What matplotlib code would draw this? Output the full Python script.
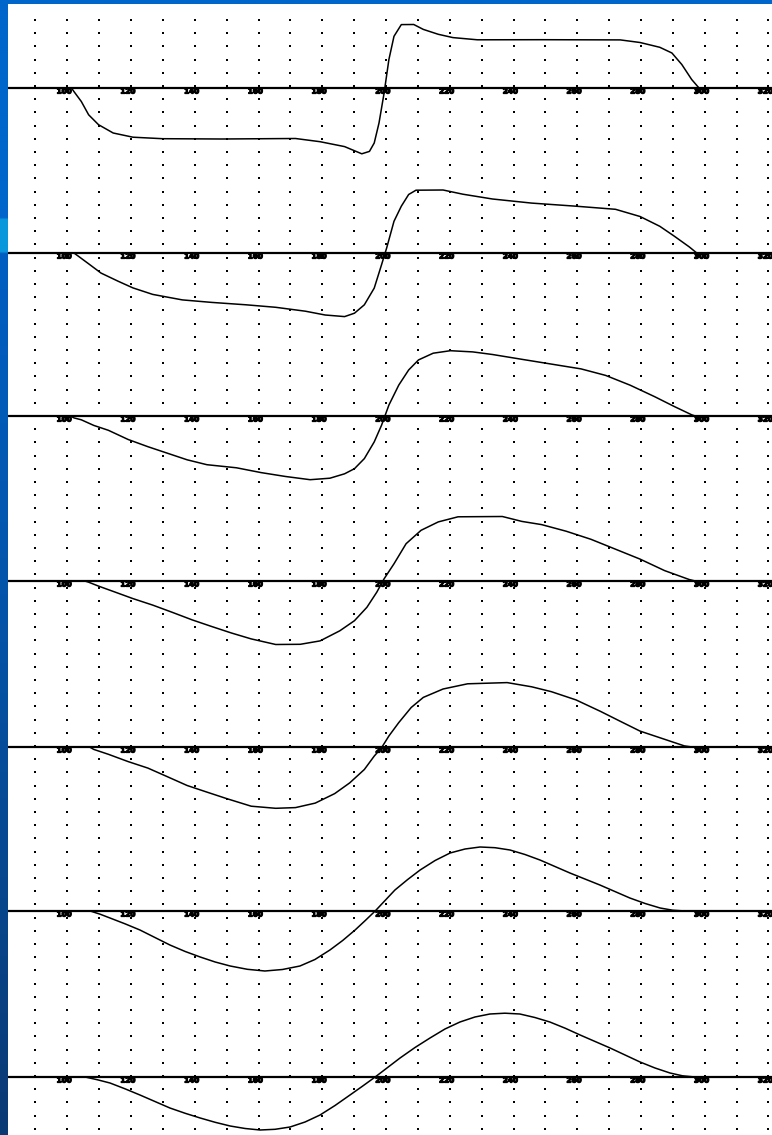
import numpy as np
import matplotlib.pyplot as plt
import matplotlib.patheffects as pe
from matplotlib.colors import LinearSegmentedColormap

# labels printed under every trace
ticks = [100, 120, 140, 160, 180, 200, 220, 240, 260, 280, 300, 320]

# row (px from top) of each trace's zero line
baselines = [88, 253, 416, 581, 747, 911, 1077]

# traces: position on the tick scale, deflection in px (up = positive)
t1 = [82, 102.3, 103.1, 105.4, 107.7, 110.8, 115.4, 121.6, 130.9, 149.4, 172.6, 180.3, 188.0,
      193.4, 195.8, 197.3, 198.8, 200.4, 201.9, 203.5, 205.8, 209.7, 212.7, 217.4, 222.0,
      229.7, 249.8, 274.5, 280.7, 286.9, 290.7, 293.8, 296.9, 299.2, 322]
a1 = [0, 0, -3.6, -13.5, -26.8, -36.7, -45.0, -49.2, -50.7, -51.0, -50.5, -53.7, -58.6,
      -65.8, -63.4, -55.0, -35.0, -5.0, 28.4, 51.7, 63.4, 63.5, 58.6, 53.7, 50.4,
      48.2, 48.3, 48.1, 45.5, 40.7, 35.0, 23.5, 8.5, 0, 0]

t2 = [82, 103.1, 104.6, 107.7, 111.6, 117.0, 121.6, 127.8, 137.1, 146.3, 157.1, 166.4, 175.7,
      181.9, 188.0, 191.1, 194.2, 197.3, 199.6, 201.2, 203.5, 205.8, 208.1, 210.4, 218.9,
      225.1, 234.4, 246.7, 260.6, 273.0, 280.7, 286.9, 291.5, 296.1, 298.5, 322]
a2 = [0, 0, -3.5, -10.8, -20.1, -28.3, -34.9, -41.4, -46.9, -49.4, -51.8, -54.3, -58.2,
      -62.0, -63.6, -60.2, -51.8, -35.1, -11.7, 5.0, 31.7, 46.8, 58.5, 62.8, 63.0,
      58.8, 54.0, 49.9, 46.8, 43.7, 36.5, 26.7, 16.7, 6.2, 0, 0]

t3 = [82, 102.0, 103.1, 105.4, 109.3, 113.9, 120.1, 126.3, 132.4, 138.6, 144.8, 154.1, 161.8,
      169.5, 177.2, 183.4, 188.0, 191.1, 194.2, 197.3, 199.6, 201.9, 205.0, 208.1, 211.2,
      215.8, 221.2, 228.2, 234.4, 243.6, 252.9, 262.2, 269.9, 277.6, 285.3, 291.5, 296.9,
      298.0, 322]
a3 = [0, 0, -1.9, -3.8, -9.4, -14.3, -23.5, -30.7, -37.2, -43.8, -48.7, -51.8, -56.6,
      -60.5, -63.7, -62.2, -57.8, -52.7, -42.6, -25.9, -9.2, 10.9, 30.9, 46.0, 56.1,
      62.8, 65.3, 64.1, 61.5, 56.7, 51.9, 47.1, 40.6, 30.8, 19.3, 9.4, 1.2, 0, 0]

t4 = [82, 106.5, 107.7, 110.8, 115.4, 121.6, 127.8, 134.0, 140.2, 146.3, 152.5, 158.7, 166.4,
      174.1, 180.3, 186.5, 191.1, 195.0, 198.1, 200.4, 203.5, 207.3, 212.0, 217.4, 223.6,
      237.5, 243.6, 249.8, 257.5, 265.3, 273.0, 280.7, 288.4, 296.1, 298.0, 322]
a4 = [0, 0, -1.2, -5.1, -10.4, -17.6, -24.1, -31.4, -38.9, -45.5, -52.0, -57.9, -63.5,
      -63.3, -59.9, -49.8, -39.7, -26.3, -11.2, 2.2, 17.2, 37.3, 50.7, 59.1, 64.2,
      64.5, 59.6, 56.4, 49.8, 41.7, 31.8, 21.9, 10.4, 1.5, 0, 0]

t5 = [82, 108.0, 109.3, 113.9, 120.1, 126.3, 132.4, 138.6, 144.8, 151.0, 158.7, 166.4, 172.6,
      178.8, 184.9, 189.6, 194.2, 197.3, 199.6, 201.9, 205.0, 208.9, 212.7, 218.9, 226.6,
      239.0, 246.7, 252.9, 260.6, 268.3, 274.5, 280.7, 288.4, 294.6, 297.0, 322]
a5 = [0, 0, -2.4, -7.3, -14.6, -21.1, -29.7, -38.5, -45.1, -51.6, -59.2, -61.3, -60.6,
      -56.1, -46.6, -35.9, -22.5, -9.1, -0.7, 11.0, 24.4, 39.5, 49.6, 58.0, 63.2,
      64.4, 60.2, 55.3, 47.1, 35.6, 25.7, 15.9, 7.7, 1.1, 0, 0]

t6 = [82, 108.2, 111.3, 114.4, 119.1, 123.8, 128.5, 133.2, 138.0, 142.7, 147.4, 152.1,
      157.5, 163.0, 168.5, 174.0, 178.7, 183.4, 187.4, 191.3, 194.5, 197.6,
      200.7, 203.8, 207.8, 211.7, 216.4, 221.1, 225.8, 230.5, 235.2, 239.9, 244.6,
      249.3, 254.0, 258.7, 263.4, 268.1, 272.8, 277.5, 282.3, 287.0, 290.9, 294.8, 322]
a6 = [0, 0, -3.2, -7, -12.8, -19, -26.5, -34, -40.5, -46, -51, -55,
      -58.3, -60, -58.5, -55, -48.5, -39, -29.5, -19, -9.5, 0,
      10.5, 21, 31.5, 41, 50.5, 58, 62, 64, 63.3, 61, 56.5,
      51, 44.5, 38, 32, 26, 19.5, 13, 7.5, 3, 0.8, 0, 0]

t7 = [82, 106.6, 110.5, 114.4, 119.1, 123.8, 128.5, 133.2, 138.0, 142.7, 147.4, 152.1,
      156.8, 161.5, 166.2, 170.9, 175.6, 180.3, 185.0, 189.7, 193.7, 197.6,
      201.5, 205.4, 210.1, 214.8, 219.5, 224.2, 228.9, 233.6, 238.3, 243.0, 247.7,
      252.4, 257.2, 261.9, 266.6, 271.3, 276.0, 280.7, 285.4, 290.1, 294.0, 297.9, 322]
a7 = [0, 0, -2.8, -6, -11.8, -18, -24.5, -31, -36.3, -41, -45.3, -49,
      -51.5, -53, -52.3, -50, -45, -38, -28.5, -18, -9, 0,
      9.5, 19, 29.5, 39, 48, 55, 60, 63, 63.8, 63, 59.5,
      55, 48.8, 42, 35.5, 29, 22, 15, 9, 4, 1.2, 0, 0]

traces = [(t1, a1), (t2, a2), (t3, a3), (t4, a4), (t5, a5), (t6, a6), (t7, a7)]

W, H = 772, 1135
fig = plt.figure(figsize=(W / 100, H / 100), dpi=100)

# blue frame: band across the top, shaded strip down the left
bg = fig.add_axes([0, 0, 1, 1])
bg.set_axis_off()
frame = LinearSegmentedColormap.from_list("frame", [
    (0.0, "#0066cc"), (0.19, "#0066cc"), (0.192, "#0a98dc"), (0.22, "#0a98dc"),
    (0.222, "#005fc2"), (0.55, "#0454a8"), (1.0, "#0a3a74")])
bg.imshow(np.linspace(0, 1, 400).reshape(-1, 1), cmap=frame, aspect="auto",
          extent=[0, 1, 0, 1], origin="upper")
bg.set_xlim(0, 1)
bg.set_ylim(0, 1)

ax = fig.add_axes([8 / W, 0, (W - 8) / W, (H - 4) / H])
ax.set_xlim(82.4, 322.1)
ax.set_ylim(H, 4)
ax.set_axis_off()
ax.add_patch(plt.Rectangle((82.4, 4), 240, H, color="white", zorder=0))

# dotted background grid
gx = np.arange(91, 322, 10)
gy = np.arange(20, H, 13.2)
GX, GY = np.meshgrid(gx, gy)
ax.scatter(GX.ravel(), GY.ravel(), s=1.1, marker="s", color="black", linewidths=0, zorder=1)

blob = [pe.withStroke(linewidth=0.9, foreground="black")]
for base, (t, a) in zip(baselines, traces):
    ax.plot([82.4, 322.1], [base, base], color="black", lw=1.6, zorder=2)
    for v in ticks:
        ax.text(v, base + 0.5, str(v), fontsize=5.2, fontweight="bold", ha="center", va="top",
                color="black", zorder=3, path_effects=blob)
    ax.plot(t, [base - y for y in a], color="black", lw=1.1, zorder=4)

fig.savefig("out.png", dpi=100)
